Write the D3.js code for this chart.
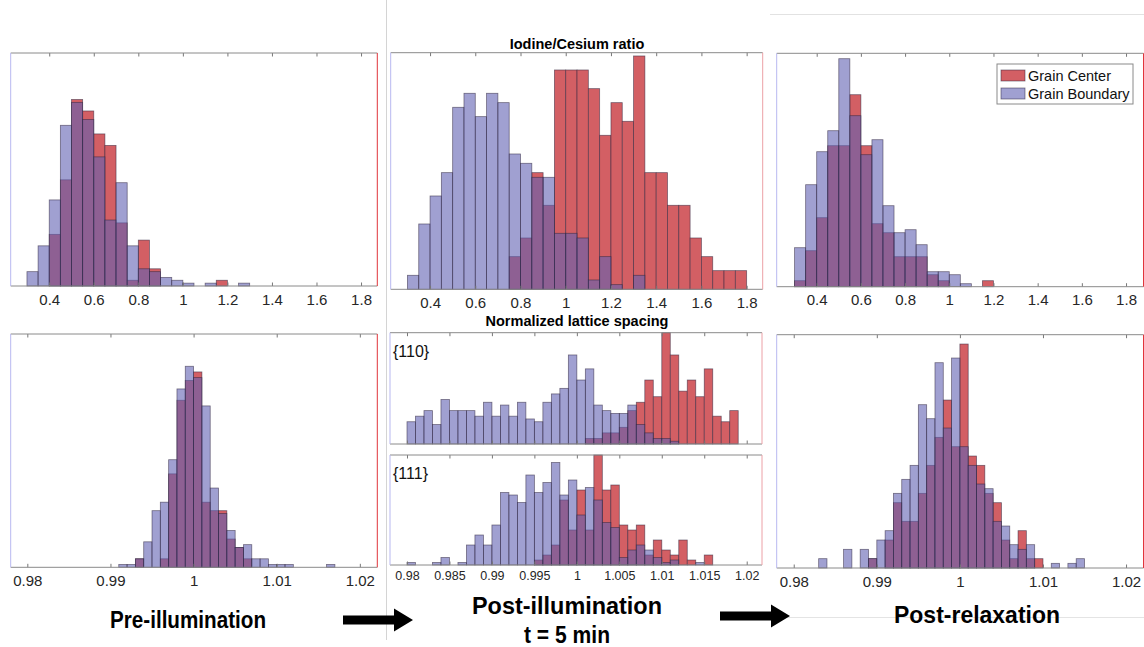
<!DOCTYPE html>
<html lang="en">
<head>
<meta charset="UTF-8">
<title>Iodine/Cesium ratio and lattice spacing histograms</title>
<script src="https://d3js.org/d3.v7.min.js"></script>
<style>
  body { margin: 0; background: #fff; }
  svg { display: block; }
  .tick text { font-family: "Liberation Sans", Arial, sans-serif; fill: #262626; }
  .big { font-family: "Liberation Sans Narrow", "Arial Narrow", "Liberation Sans", Arial, sans-serif; font-weight: bold; font-stretch: condensed; fill: #000; }
</style>
</head>
<body>
<div id="chart"></div>
<script>
// ---- data: histogram counts ----
// Iodine/Cesium ratio, bins of 0.05
const preRatioStart = 0.30;
const preRatioCenter   = [0,0,18,37,65,61,53,49,22,2,16,6,0,0,0,0,0,2,0,0];
const preRatioBoundary = [5,14,30,56,64,58,45,23,36,14,6,5,3,2,1,0,1,0,0,1];

const postRatioStart = 0.30;
const postRatioCenter   = [0,0,0,0,0,0,0,0,0,7,11,25,18,47,47,47,43,33,40,36,50,25,25,18,18,11,7,4,4,4];
const postRatioBoundary = [3,14,20,25,39,42,37,42,40,29,27,24,24,12,12,11,2,7,1,0,3,0,0,0,0,0,0,0,0,0];

const relaxRatioStart = 0.30;
const relaxRatioCenter   = [2,12,23,47,47,64,47,21,18,10,10,10,4,2,0,0,0,2];
const relaxRatioBoundary = [13,34,45,52,76,57,44,49,27,18,19,14,5,5,4,1,0,0];

// normalized lattice spacing, bins of 0.001
const preLatticeStart = 0.991;
const preLatticeCenter   = [0,0,3,0,0,3,33,59,66,69,23,20,20,10,7,3,0,0,0,0,0,0,0,0,0,0];
const preLatticeBoundary = [1,1,3,9,20,23,38,63,71,67,57,28,19,13,7,8,3,3,1,1,1,0,0,0,0,1];

const lattice110Start = 0.980;
const lattice110Center   = [0,0,0,0,0,0,0,0,0,0,0,0,0,0,0,0,0,0,0,0,0,2,2,4,4,6,12,15,23,17,40,32,19,23,17,27,10,8,12];
const lattice110Boundary = [8,10,12,7,16,12,12,12,10,15,10,14,10,15,9,8,15,18,20,32,23,27,14,12,11,11,14,7,4,2,2,1,0,0,0,0,0,0,0];

const lattice111Start = 0.980;
const lattice111Center   = [0,0,0,0,0,0,0,0,0,0,0,0,0,0,0,2,4,8,26,14,30,14,44,30,32,16,14,16,4,10,6,4,10,2,0,4];
const lattice111Boundary = [1,0,0,1,3,0,1,8,12,8,16,29,28,25,36,29,33,41,28,34,20,31,26,17,15,3,6,8,6,3,1,2,0,0,1,0];

const relaxLatticeStart = 0.983;
const relaxLatticeCenter   = [0,0,0,0,0,0,2,0,6,14,10,10,16,22,28,36,26,48,24,22,16,14,6,2,8,2,2,0,0,0,0,0];
const relaxLatticeBoundary = [2,0,0,4,0,4,2,6,8,16,19,22,35,32,44,30,45,26,22,18,17,10,9,5,4,5,0,0,1,0,1,2];

// tick values and labels
const ratioTicks = [0.4, 0.6, 0.8, 1, 1.2, 1.4, 1.6, 1.8];
const ratioLabels = ["0.4", "0.6", "0.8", "1", "1.2", "1.4", "1.6", "1.8"];
const latticeTicks = [0.98, 0.99, 1, 1.01, 1.02];
const latticeLabels = ["0.98", "0.99", "1", "1.01", "1.02"];
const fineTicks = [0.98, 0.985, 0.99, 0.995, 1, 1.005, 1.01, 1.015, 1.02];
const fineLabels = ["0.98", "0.985", "0.99", "0.995", "1", "1.005", "1.01", "1.015", "1.02"];

const seriesNames = ["Grain Center", "Grain Boundary"];

// ---- styling ----
const redFill = "#d35f64";
const blueFill = "rgb(96,96,178)";
const barStroke = "rgba(45,35,60,0.6)";

const svg = d3.select("#chart").append("svg")
    .attr("width", 1144)
    .attr("height", 647);

// panel layout (pixel boxes)
const panels = [
  {x0: 10.7, x1: 377.3, y0: 53, y1: 286, dom: [0.227, 1.873], ymax: 81.2, start: preRatioStart, step: 0.05,
   center: preRatioCenter, boundary: preRatioBoundary, ticks: ratioTicks, labels: ratioLabels, fs: 15, rightCol: "#e0353b"},
  {x0: 390.7, x1: 762.7, y0: 52.7, y1: 289.3, dom: [0.226, 1.871], ymax: 50.7, start: postRatioStart, step: 0.05,
   center: postRatioCenter, boundary: postRatioBoundary, ticks: ratioTicks, labels: ratioLabels, fs: 15, rightCol: "#eca0a6"},
  {x0: 776.7, x1: 1143.5, y0: 53.3, y1: 286.7, dom: [0.219, 1.879], ymax: 77.8, start: relaxRatioStart, step: 0.05,
   center: relaxRatioCenter, boundary: relaxRatioBoundary, ticks: ratioTicks, labels: ratioLabels, fs: 15, rightCol: "#e0353b"},
  {x0: 10.7, x1: 377.3, y0: 334, y1: 567.3, dom: [0.978, 1.0221], ymax: 82.4, start: preLatticeStart, step: 0.001,
   center: preLatticeCenter, boundary: preLatticeBoundary, ticks: latticeTicks, labels: latticeLabels, fs: 15, rightCol: "#e0353b"},
  {x0: 390, x1: 762, y0: 332.7, y1: 444, dom: [0.978, 1.0218], ymax: 40, start: lattice110Start, step: 0.001,
   center: lattice110Center, boundary: lattice110Boundary, ticks: fineTicks, labels: null, fs: 12.5, rightCol: "#eca0a6", tag: "{110}"},
  {x0: 390, x1: 762, y0: 455, y1: 565, dom: [0.978, 1.0218], ymax: 44, start: lattice111Start, step: 0.001,
   center: lattice111Center, boundary: lattice111Boundary, ticks: fineTicks, labels: fineLabels, fs: 12.5, rightCol: "#eca0a6", tag: "{111}"},
  {x0: 776.7, x1: 1143.5, y0: 334.7, y1: 568, dom: [0.97795, 1.0221], ymax: 50, start: relaxLatticeStart, step: 0.001,
   center: relaxLatticeCenter, boundary: relaxLatticeBoundary, ticks: latticeTicks, labels: latticeLabels, fs: 15, rightCol: "#e0353b"}
];

function drawPanel(p) {
  const g = svg.append("g");
  const x = d3.scaleLinear().domain(p.dom).range([p.x0, p.x1]);
  const y = d3.scaleLinear().domain([0, p.ymax]).range([p.y1, p.y0]);

  const toBins = counts => counts.map((c, i) => ({lo: p.start + i * p.step, hi: p.start + (i + 1) * p.step, c: c}))
      .filter(d => d.c > 0);

  // grain center first, grain boundary drawn semi-transparent on top
  g.selectAll(".center").data(toBins(p.center)).enter().append("rect")
      .attr("x", d => x(d.lo))
      .attr("width", d => x(d.hi) - x(d.lo))
      .attr("y", d => y(d.c))
      .attr("height", d => y(0) - y(d.c))
      .attr("fill", redFill)
      .attr("stroke", barStroke)
      .attr("stroke-width", 0.8);

  g.selectAll(".boundary").data(toBins(p.boundary)).enter().append("rect")
      .attr("x", d => x(d.lo))
      .attr("width", d => x(d.hi) - x(d.lo))
      .attr("y", d => y(d.c))
      .attr("height", d => y(0) - y(d.c))
      .attr("fill", blueFill)
      .attr("fill-opacity", 0.6)
      .attr("stroke", barStroke)
      .attr("stroke-width", 0.8);

  // bottom axis with inward ticks
  const bottom = g.append("g")
      .attr("transform", `translate(0,${p.y1})`)
      .call(d3.axisBottom(x).tickValues(p.ticks).tickSize(-3.5).tickPadding(p.fs === 15 ? 8 : 6)
          .tickFormat((d, i) => p.labels ? p.labels[i] : ""));
  bottom.select(".domain").remove();
  bottom.selectAll("line").attr("stroke", "#777");
  bottom.selectAll("text").style("font-size", p.fs + "px");

  const top = g.append("g")
      .attr("transform", `translate(0,${p.y0})`)
      .call(d3.axisTop(x).tickValues(p.ticks).tickSize(-3.5).tickFormat(""));
  top.select(".domain").remove();
  top.selectAll("line").attr("stroke", "#777");

  // box: gray top/bottom, coloured left/right edges
  g.append("line").attr("x1", p.x0).attr("x2", p.x1).attr("y1", p.y0).attr("y2", p.y0)
      .attr("stroke", "#8a8a8a").attr("stroke-width", 1);
  g.append("line").attr("x1", p.x0).attr("x2", p.x1).attr("y1", p.y1).attr("y2", p.y1)
      .attr("stroke", "#8a8a8a").attr("stroke-width", 1);
  g.append("line").attr("x1", p.x0).attr("x2", p.x0).attr("y1", p.y0).attr("y2", p.y1)
      .attr("stroke", "#b8b8f0").attr("stroke-width", 1);
  g.append("line").attr("x1", p.x1).attr("x2", p.x1).attr("y1", p.y0).attr("y2", p.y1)
      .attr("stroke", p.rightCol).attr("stroke-width", 1);

  if (p.tag) {
    g.append("text")
        .attr("x", p.x0 + 3)
        .attr("y", p.y0 + 24)
        .style("font-family", "Liberation Sans, Arial, sans-serif")
        .style("font-size", "16px")
        .attr("fill", "#111")
        .text(p.tag);
  }
}

panels.forEach(drawPanel);

// titles over the middle column
svg.append("text").attr("x", 577).attr("y", 49).attr("text-anchor", "middle")
    .style("font-family", "Liberation Sans, Arial, sans-serif").style("font-size", "14.5px").style("font-weight", "bold")
    .text("Iodine/Cesium ratio");
svg.append("text").attr("x", 577).attr("y", 326).attr("text-anchor", "middle")
    .style("font-family", "Liberation Sans, Arial, sans-serif").style("font-size", "14.5px").style("font-weight", "bold")
    .text("Normalized lattice spacing");

// legend in the top-right panel
const legend = svg.append("g").attr("transform", "translate(997,64)");
legend.append("rect").attr("width", 136).attr("height", 40)
    .attr("fill", "#fff").attr("stroke", "#8a8a8a").attr("stroke-width", 1);
seriesNames.forEach((name, i) => {
  legend.append("rect")
      .attr("x", 4).attr("y", 6 + i * 18).attr("width", 24).attr("height", 11)
      .attr("fill", i === 0 ? redFill : blueFill)
      .attr("fill-opacity", i === 0 ? 1 : 0.6)
      .attr("stroke", barStroke).attr("stroke-width", 0.8);
  legend.append("text")
      .attr("x", 31).attr("y", 16.5 + i * 18)
      .style("font-family", "Liberation Sans, Arial, sans-serif").style("font-size", "14.5px")
      .attr("fill", "#111")
      .text(name);
});

// separator and faint frame lines
svg.append("line").attr("x1", 386.5).attr("x2", 386.5).attr("y1", 0).attr("y2", 640)
    .attr("stroke", "#d4d4d4").attr("stroke-width", 1);
svg.append("line").attr("x1", 770).attr("x2", 1144).attr("y1", 14.5).attr("y2", 14.5)
    .attr("stroke", "#e2e2e2").attr("stroke-width", 1);
svg.append("line").attr("x1", 787).attr("x2", 1144).attr("y1", 617.5).attr("y2", 617.5)
    .attr("stroke", "#e4e4e4").attr("stroke-width", 1);

// stage captions
const captions = [
  {text: "Pre-illumination", x: 188, y: 628, w: 156},
  {text: "Post-illumination", x: 567, y: 614, w: 190},
  {text: "t = 5 min", x: 567, y: 643, w: 86},
  {text: "Post-relaxation", x: 977, y: 623, w: 166}
];
captions.forEach(c => {
  svg.append("text").attr("class", "big")
      .attr("x", c.x).attr("y", c.y).attr("text-anchor", "middle")
      .attr("textLength", c.w).attr("lengthAdjust", "spacingAndGlyphs")
      .style("font-size", "24px")
      .text(c.text);
});

// arrows between stages
function arrow(xs, xe, cy) {
  const head = 19, shaft = 4.5, hh = 11.5;
  const d = `M${xs},${cy - shaft} L${xe - head},${cy - shaft} L${xe - head},${cy - hh} L${xe},${cy}
             L${xe - head},${cy + hh} L${xe - head},${cy + shaft} L${xs},${cy + shaft} Z`;
  svg.append("path").attr("d", d).attr("fill", "#000");
}
arrow(343, 413, 620);
arrow(720, 790, 616);
</script>
</body>
</html>
